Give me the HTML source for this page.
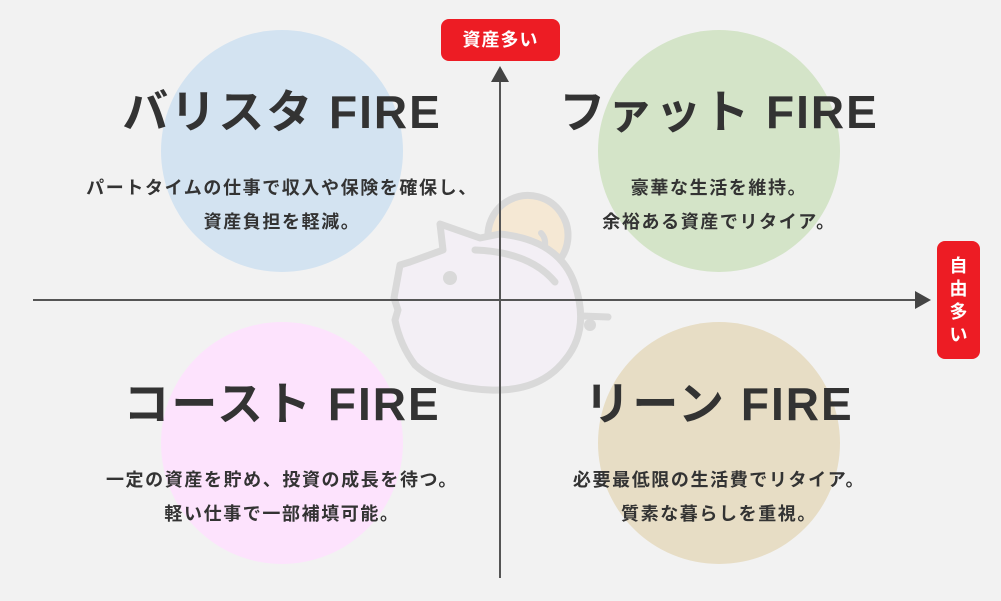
<!DOCTYPE html>
<html><head><meta charset="utf-8"><style>
html,body{margin:0;padding:0}
body{width:1001px;height:601px;background:#f2f2f2;position:relative;overflow:hidden;font-family:"Liberation Sans","Noto Sans CJK JP",sans-serif}
.t{position:absolute;width:500px;text-align:center;color:#333;font-weight:bold}
.h{font-size:46px;line-height:50px;letter-spacing:2px}
.d{font-size:18px;line-height:34px;letter-spacing:1.6px}
</style></head><body>
<svg width="1001" height="601" style="position:absolute;left:0;top:0">
<circle cx="282" cy="151" r="121" fill="#d3e3f1"/>
<circle cx="719" cy="151" r="121" fill="#d4e4c8"/>
<circle cx="282" cy="443" r="121" fill="#fde3fd"/>
<circle cx="719" cy="443" r="121" fill="#e7ddc5"/>
<g stroke="#d9d9d9" stroke-width="7" stroke-linecap="round" stroke-linejoin="round">
<path d="M490,248 A40,40 0 1 1 555,265 Z" fill="#f5e8d4"/>
<path d="M443,250 L440,224 L480,238 L500,234 Q560,240 575,285 Q590,330 565,360 Q540,392 490,390 Q440,388 415,365 Q400,345 395,320 L398,310 L394,298 L400,265 L410,262 L443,250 Z" fill="#f3eff5"/>
<path d="M475,250 Q530,252 555,282" fill="none"/>
<path d="M541,233 Q546,238 545,246" fill="none" stroke-width="6"/>
<path d="M582,316 L608,317" fill="none"/>
</g>
<circle cx="450" cy="278" r="7" fill="#d9d9d9"/>
<circle cx="590" cy="325" r="6" fill="#d9d9d9"/>
<line x1="500" y1="80" x2="500" y2="578" stroke="#555" stroke-width="2"/>
<polygon points="500,66 491,82 509,82" fill="#444"/>
<line x1="33" y1="300" x2="916" y2="300" stroke="#555" stroke-width="2"/>
<polygon points="931,300 915,291 915,309" fill="#444"/>
<rect x="441" y="19" width="119" height="42" rx="8" fill="#ed1c24"/>
<rect x="937" y="241" width="43" height="118" rx="8" fill="#ed1c24"/>
</svg>
<div style="position:absolute;left:441px;top:19px;width:119px;height:42px;line-height:42px;text-align:center;color:#fff;font-weight:bold;font-size:18px;letter-spacing:1px">資産多い</div>
<div style="position:absolute;left:937px;top:255px;width:43px;text-align:center;color:#fff;font-weight:bold;font-size:18px;line-height:23px">自<br>由<br>多<br>い</div>
<div class="t h" style="left:32px;top:87px">バリスタ FIRE</div>
<div class="t d" style="left:32px;top:171px">パートタイムの仕事で収入や保険を確保し、<br>資産負担を軽減。</div>
<div class="t h" style="left:469px;top:87px">ファット FIRE</div>
<div class="t d" style="left:469px;top:171px">豪華な生活を維持。<br>余裕ある資産でリタイア。</div>
<div class="t h" style="left:32px;top:379px">コースト FIRE</div>
<div class="t d" style="left:32px;top:463px">一定の資産を貯め、投資の成長を待つ。<br>軽い仕事で一部補填可能。</div>
<div class="t h" style="left:469px;top:379px">リーン FIRE</div>
<div class="t d" style="left:469px;top:463px">必要最低限の生活費でリタイア。<br>質素な暮らしを重視。</div>
</body></html>
